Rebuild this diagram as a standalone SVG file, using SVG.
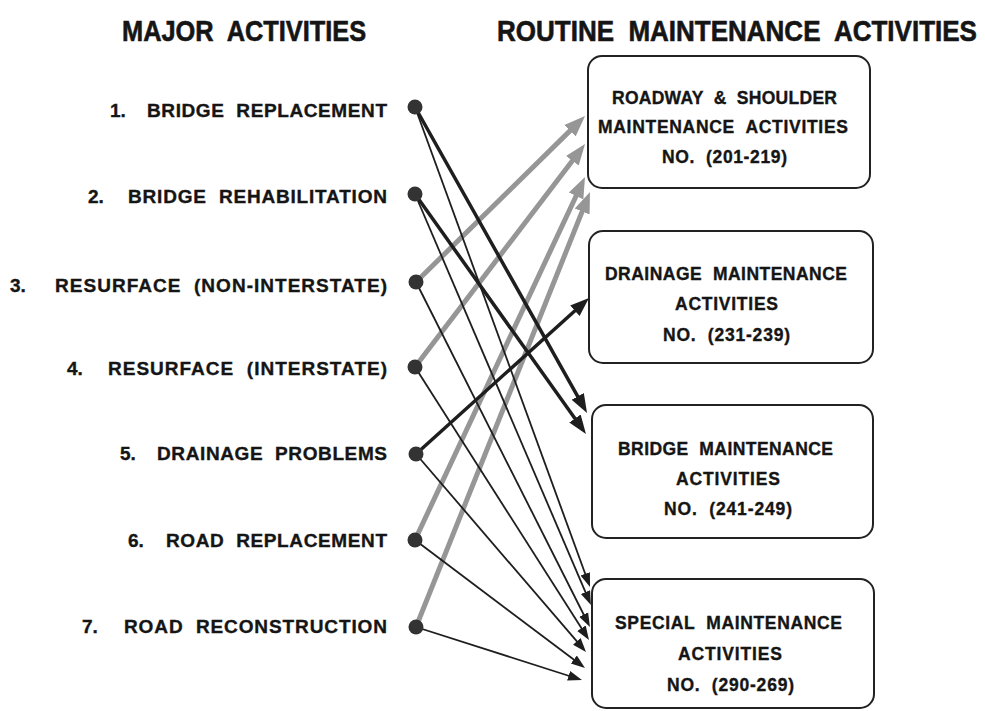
<svg xmlns="http://www.w3.org/2000/svg" width="985" height="711" viewBox="0 0 985 711">
  <style>
    text { font-family: "Liberation Sans", Arial, Helvetica, sans-serif; font-weight: bold; fill: #151515; stroke: #151515; stroke-width: 0.35; white-space: pre; }
    .head { font-size: 29px; stroke-width: 0.6; word-spacing: 8px; }
    .lbl { font-size: 19px; }
    .box-t { font-size: 17.5px; }
    .box { fill: #ffffff; stroke: #222; stroke-width: 2; }
    .dot { fill: #333; }
    .gray { stroke: #969696; stroke-width: 5; fill: none; marker-end: url(#headGray); }
    .thick { stroke: #1e1e1e; stroke-width: 3.5; fill: none; marker-end: url(#headThick); }
    .thin { stroke: #1e1e1e; stroke-width: 1.8; fill: none; marker-end: url(#headThin); }
  </style>
  <defs>
    <marker id="headGray" markerUnits="userSpaceOnUse" markerWidth="24" markerHeight="18" viewBox="0 -9 24 18" refX="13" refY="0" orient="auto">
      <path d="M0,-8 L21,0 L0,8 z" fill="#969696"/>
    </marker>
    <marker id="headThick" markerUnits="userSpaceOnUse" markerWidth="22" markerHeight="16" viewBox="0 -8 22 16" refX="12" refY="0" orient="auto">
      <path d="M0,-7 L19,0 L0,7 z" fill="#1e1e1e"/>
    </marker>
    <marker id="headThin" markerUnits="userSpaceOnUse" markerWidth="16" markerHeight="12" viewBox="0 -6 16 12" refX="9" refY="0" orient="auto">
      <path d="M0,-5 L14,0 L0,5 z" fill="#1e1e1e"/>
    </marker>
  </defs>

  <rect width="985" height="711" fill="#ffffff"/>

  <!-- column headings (condensed by horizontal scaling) -->
  <text class="head" transform="translate(122,41) scale(0.875,1)" x="0" y="0">MAJOR ACTIVITIES</text>
  <text class="head" transform="translate(497,41) scale(0.897,1)" x="0" y="0">ROUTINE MAINTENANCE ACTIVITIES</text>

  <!-- routine maintenance boxes -->
  <g id="box-roadway">
    <rect class="box" x="588" y="56" width="282" height="132" rx="14"/>
    <text class="box-t" x="612" y="104" textLength="225">ROADWAY  &amp;  SHOULDER</text>
    <text class="box-t" x="598" y="133" textLength="250">MAINTENANCE  ACTIVITIES</text>
    <text class="box-t" x="662" y="163" textLength="125">NO.  (201-219)</text>
  </g>
  <g id="box-drainage">
    <rect class="box" x="589" y="231" width="284" height="132" rx="14"/>
    <text class="box-t" x="605" y="280" textLength="242">DRAINAGE  MAINTENANCE</text>
    <text class="box-t" x="675" y="310" textLength="103">ACTIVITIES</text>
    <text class="box-t" x="663" y="341" textLength="127">NO.  (231-239)</text>
  </g>
  <g id="box-bridge">
    <rect class="box" x="592" y="405" width="281" height="133" rx="14"/>
    <text class="box-t" x="618" y="455" textLength="215">BRIDGE  MAINTENANCE</text>
    <text class="box-t" x="676" y="485" textLength="104">ACTIVITIES</text>
    <text class="box-t" x="664" y="515" textLength="128">NO.  (241-249)</text>
  </g>
  <g id="box-special">
    <rect class="box" x="592" y="579" width="282" height="129" rx="14"/>
    <text class="box-t" x="615" y="629" textLength="227">SPECIAL  MAINTENANCE</text>
    <text class="box-t" x="678" y="660" textLength="104">ACTIVITIES</text>
    <text class="box-t" x="667" y="691" textLength="127">NO.  (290-269)</text>
  </g>

  <!-- connectors -->
  <g id="connectors">
    <!-- grey: to roadway & shoulder -->
    <line class="gray" x1="416" y1="282" x2="579.3" y2="121.6"/>
    <line class="gray" x1="415" y1="367" x2="580.2" y2="150.4"/>
    <line class="gray" x1="415" y1="540" x2="581.6" y2="184.2"/>
    <line class="gray" x1="416" y1="627" x2="587.0" y2="199.4"/>
    <!-- heavy black: to bridge and drainage -->
    <line class="thick" x1="415" y1="107" x2="583.6" y2="406.9"/>
    <line class="thick" x1="415" y1="194" x2="581.9" y2="428.3"/>
    <line class="thick" x1="416" y1="454" x2="583.8" y2="302.7"/>
    <!-- light black: to special maintenance -->
    <line class="thin" x1="415" y1="107" x2="588.3" y2="582.3"/>
    <line class="thin" x1="415" y1="194" x2="589.0" y2="600.4"/>
    <line class="thin" x1="416" y1="282" x2="587.7" y2="622.5"/>
    <line class="thin" x1="415" y1="367" x2="586.3" y2="635.8"/>
    <line class="thin" x1="416" y1="454" x2="582.7" y2="648.2"/>
    <line class="thin" x1="415" y1="540" x2="581.0" y2="665.0"/>
    <line class="thin" x1="416" y1="627" x2="577.2" y2="678.5"/>
  </g>

  <!-- major activities -->
  <g id="act-1">
    <text class="lbl" x="110" y="117">1.</text>
    <text class="lbl" x="147" y="117" textLength="240">BRIDGE  REPLACEMENT</text>
    <circle class="dot" cx="415" cy="107" r="7.5"/>
  </g>
  <g id="act-2">
    <text class="lbl" x="88" y="203">2.</text>
    <text class="lbl" x="128" y="203" textLength="259">BRIDGE  REHABILITATION</text>
    <circle class="dot" cx="415" cy="194" r="7.5"/>
  </g>
  <g id="act-3">
    <text class="lbl" x="10" y="292">3.</text>
    <text class="lbl" x="55" y="292" textLength="332">RESURFACE  (NON-INTERSTATE)</text>
    <circle class="dot" cx="416" cy="282" r="7.5"/>
  </g>
  <g id="act-4">
    <text class="lbl" x="67" y="375">4.</text>
    <text class="lbl" x="108" y="375" textLength="279">RESURFACE  (INTERSTATE)</text>
    <circle class="dot" cx="415" cy="367" r="7.5"/>
  </g>
  <g id="act-5">
    <text class="lbl" x="120" y="460">5.</text>
    <text class="lbl" x="157" y="460" textLength="230">DRAINAGE  PROBLEMS</text>
    <circle class="dot" cx="416" cy="454" r="7.5"/>
  </g>
  <g id="act-6">
    <text class="lbl" x="128" y="547">6.</text>
    <text class="lbl" x="166" y="547" textLength="221">ROAD  REPLACEMENT</text>
    <circle class="dot" cx="415" cy="540" r="7.5"/>
  </g>
  <g id="act-7">
    <text class="lbl" x="82" y="633">7.</text>
    <text class="lbl" x="124" y="633" textLength="263">ROAD  RECONSTRUCTION</text>
    <circle class="dot" cx="416" cy="627" r="7.5"/>
  </g>
</svg>
